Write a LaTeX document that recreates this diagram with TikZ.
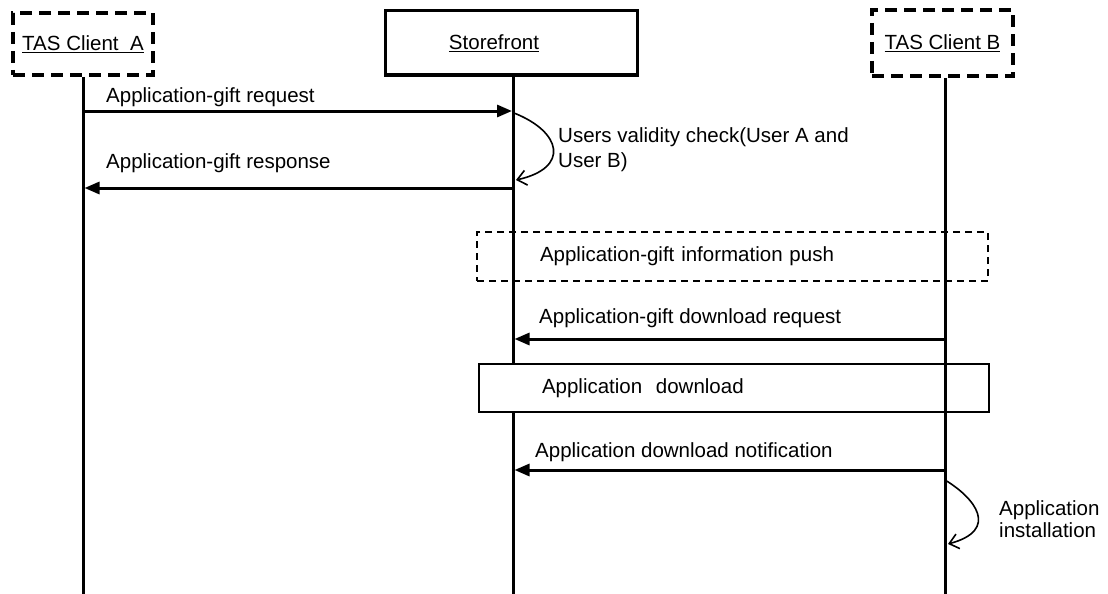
\documentclass[tikz,border=0pt]{standalone}
\usepackage{fontspec}
\setmainfont{Liberation Sans}
\usetikzlibrary{arrows.meta}
\begin{document}
\begin{tikzpicture}[x=1pt,y=-1pt,
  font=\fontsize{20.5}{25}\selectfont,
  lifeline/.style={line width=3pt},
  msg/.style={line width=3pt,-{Triangle[length=15pt,width=12pt]}},
  selfmsg/.style={line width=1.6pt,-{Straight Barb[length=9pt,width=15pt]}},
  actor/.style={draw,line width=3.5pt,dash pattern=on 12pt off 7pt,inner sep=0pt},
  sfbox/.style={draw,line width=3pt,inner sep=0pt,minimum width=252pt,minimum height=64pt},
  phase/.style={draw,line width=1.3pt,inner xsep=63pt,inner ysep=0pt,align=left,minimum height=49pt},
  lbl/.style={anchor=base west,inner sep=0pt,align=left}]
\useasboundingbox (0,0) rectangle (1108,594);
% actors
\node[actor,minimum width=140pt,minimum height=62pt] (ca) at (83,44) {\underline{TAS Client\ \ A}};
\node[sfbox] (sf) at (511,43) {\underline{Storefront}\hspace{34pt}\mbox{}};
\node[actor,minimum width=141pt,minimum height=66pt] (cb) at (942.5,43) {\underline{TAS Client B}};
% lifeline ends
\coordinate (aEnd) at (83,594);
\coordinate (sEnd) at (513,594);
\coordinate (bEnd) at (945,594);
\draw[lifeline] (ca.south) -- (aEnd);
\draw[lifeline] (sf.south -| sEnd) -- (sEnd);
% phase boxes
\node[phase,dashed,dash pattern=on 7pt off 5pt,text width=385pt] (push) at (732.5,256.5) {Application-gift information push};
\node[phase,fill=white,text width=384pt,minimum height=48pt] (dl) at (734,388) {Application\ \ download};
\draw[lifeline] (cb.south -| bEnd) -- (bEnd);
% message points
\coordinate (a1) at (83,111);   \coordinate (s1) at (512,111);
\coordinate (s2) at (513,188);  \coordinate (a2) at (84.5,188);
\coordinate (s3) at (514,113);  \coordinate (s4) at (516,180);
\coordinate (b5) at (945,339);  \coordinate (s5) at (514.5,339);
\coordinate (b6) at (945,470);  \coordinate (s6) at (514.5,470);
\coordinate (b7) at (945,480);  \coordinate (b8) at (948,544);
% messages
\draw[msg] (a1) -- (s1);
\node[lbl] (t1) at (106,102) {Application-gift request};
\draw[selfmsg] (s3) .. controls (562,132) and (570,168) .. (s4);
\node[lbl] (t2) at (558,167) {Users validity check(User A and\\User B)};
\draw[msg] (s2) -- (a2);
\node[lbl] (t3) at (106,168) {Application-gift response};
\draw[msg] (b5) -- (s5);
\node[lbl] (t5) at (539,323) {Application-gift download request};
\draw[msg] (b6) -- (s6);
\node[lbl] (t6) at (535,457) {Application download notification};
\draw[selfmsg] (b7) .. controls (975,498) and (1000,530) .. (b8);
\node[lbl,font=\fontsize{20.5}{22}\selectfont] (t7) at (999,537) {Application\\installation};
\end{tikzpicture}
\end{document}
